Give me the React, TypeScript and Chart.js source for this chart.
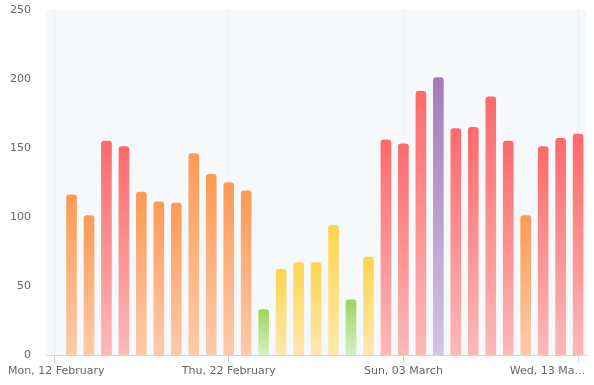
import React, { useEffect, useRef } from "react";
import { Chart, registerables } from "chart.js";

Chart.register(...registerables);

const startDate = "2024-02-12";
const dates = [
  "2024-02-13", "2024-02-14", "2024-02-15", "2024-02-16", "2024-02-17",
  "2024-02-18", "2024-02-19", "2024-02-20", "2024-02-21", "2024-02-22",
  "2024-02-23", "2024-02-24", "2024-02-25", "2024-02-26", "2024-02-27",
  "2024-02-28", "2024-02-29", "2024-03-01", "2024-03-02", "2024-03-03",
  "2024-03-04", "2024-03-05", "2024-03-06", "2024-03-07", "2024-03-08",
  "2024-03-09", "2024-03-10", "2024-03-11", "2024-03-12", "2024-03-13",
];
const values = [
  116, 101, 155, 151, 118, 111, 110, 146, 131, 125,
  119, 33, 62, 67, 67, 94, 40, 71, 156, 153,
  191, 201, 164, 165, 187, 155, 101, 151, 157, 160,
];
const tickDates = ["2024-02-12", "2024-02-22", "2024-03-03", "2024-03-13"];
const tickLabels = ["Mon, 12 February", "Thu, 22 February", "Sun, 03 March", "Wed, 13 Ma..."];
const yTicks = [0, 50, 100, 150, 200, 250];

const DAY = 86400000;
const dayOffset = (d: string) => (Date.parse(d) - Date.parse(startDate)) / DAY;

const levelColors = (v: number): [string, string] => {
  if (v <= 50) return ["#9ed65c", "#d6eec2"];
  if (v <= 100) return ["#fed54e", "#fbe9b0"];
  if (v <= 150) return ["#ff9a55", "#fdcbab"];
  if (v <= 200) return ["#ff6a6b", "#fcb9b9"];
  return ["#a57abb", "#d5c3e3"];
};

const FONT = "DejaVu Sans";

export default function App() {
  const ref = useRef<HTMLCanvasElement | null>(null);
  useEffect(() => {
    document.body.style.margin = "0";
    const canvas = ref.current!;
    const bgPlugin = {
      id: "plotBg",
      beforeDraw(chart: any) {
        const { ctx, chartArea } = chart;
        ctx.save();
        ctx.fillStyle = "#f6f9fb";
        ctx.fillRect(chartArea.left, chartArea.top, chartArea.right - chartArea.left, chartArea.bottom - chartArea.top);
        ctx.restore();
      },
    };
    const xLabelPlugin = {
      id: "xLabels",
      afterDraw(chart: any) {
        const { ctx } = chart;
        const xs = chart.scales.x;
        ctx.save();
        ctx.font = `11px "${FONT}"`;
        ctx.fillStyle = "#666666";
        ctx.textBaseline = "middle";
        ctx.textAlign = "left";
        tickDates.forEach((d, i) => {
          const label = tickLabels[i];
          const w = ctx.measureText(label).width;
          let x = xs.getPixelForValue(dayOffset(d)) - w / 2;
          if (x < 8) x = 8;
          if (x + w > chart.width - 9) x = chart.width - 9 - w;
          ctx.fillText(label, x, 371);
        });
        ctx.restore();
      },
    };
    const chart = new Chart(canvas, {
      type: "bar",
      data: {
        datasets: [
          {
            data: dates.map((d, i) => ({ x: dayOffset(d), y: values[i] })),
            barThickness: 10,
            borderRadius: { topLeft: 3, topRight: 3, bottomLeft: 0, bottomRight: 0 },
            borderSkipped: "bottom",
            backgroundColor: (c: any) => {
              const v = c.raw ? c.raw.y : 0;
              const [top, bottom] = levelColors(v);
              const chart = c.chart;
              if (!chart.chartArea) return top;
              const ys = chart.scales.y;
              const yTop = ys.getPixelForValue(v);
              const yBot = ys.getPixelForValue(0);
              const g = chart.ctx.createLinearGradient(0, yTop, 0, yBot);
              g.addColorStop(0, top);
              g.addColorStop(1, bottom);
              return g;
            },
          } as any,
        ],
      },
      options: {
        animation: false,
        responsive: false,
        devicePixelRatio: 1,
        layout: { padding: { top: 10, right: 7, left: 0, bottom: 0 } },
        plugins: { legend: { display: false }, tooltip: { enabled: false } },
        scales: {
          x: {
            type: "linear",
            offset: false,
            min: dayOffset(startDate) - 0.46,
            max: dayOffset(tickDates[3]) + 0.51,
            afterBuildTicks: (s: any) => {
              s.ticks = tickDates.map((d) => ({ value: dayOffset(d) }));
            },
            afterFit: (s: any) => {
              s.height = 30;
            },
            ticks: { display: false },
            grid: {
              display: true,
              offset: false,
              drawOnChartArea: true,
              drawTicks: true,
              tickLength: 8,
              color: "#eceff3",
              tickColor: "#ccd6eb",
              lineWidth: 1,
            },
            border: { display: true, color: "#ccd6eb", width: 1 },
          },
          y: {
            min: 0,
            max: 250,
            afterBuildTicks: (s: any) => {
              s.ticks = yTicks.map((v) => ({ value: v }));
            },
            afterFit: (s: any) => {
              s.width = 46;
            },
            ticks: {
              padding: 0,
              color: "#666666",
              font: { family: FONT, size: 11 },
            },
            grid: { display: false, drawTicks: true, tickLength: 15 },
            border: { display: false },
          },
        },
      },
      plugins: [bgPlugin, xLabelPlugin],
    });
    return () => chart.destroy();
  }, []);
  return <canvas ref={ref} width={594} height={385} style={{ display: "block" }} />;
}
